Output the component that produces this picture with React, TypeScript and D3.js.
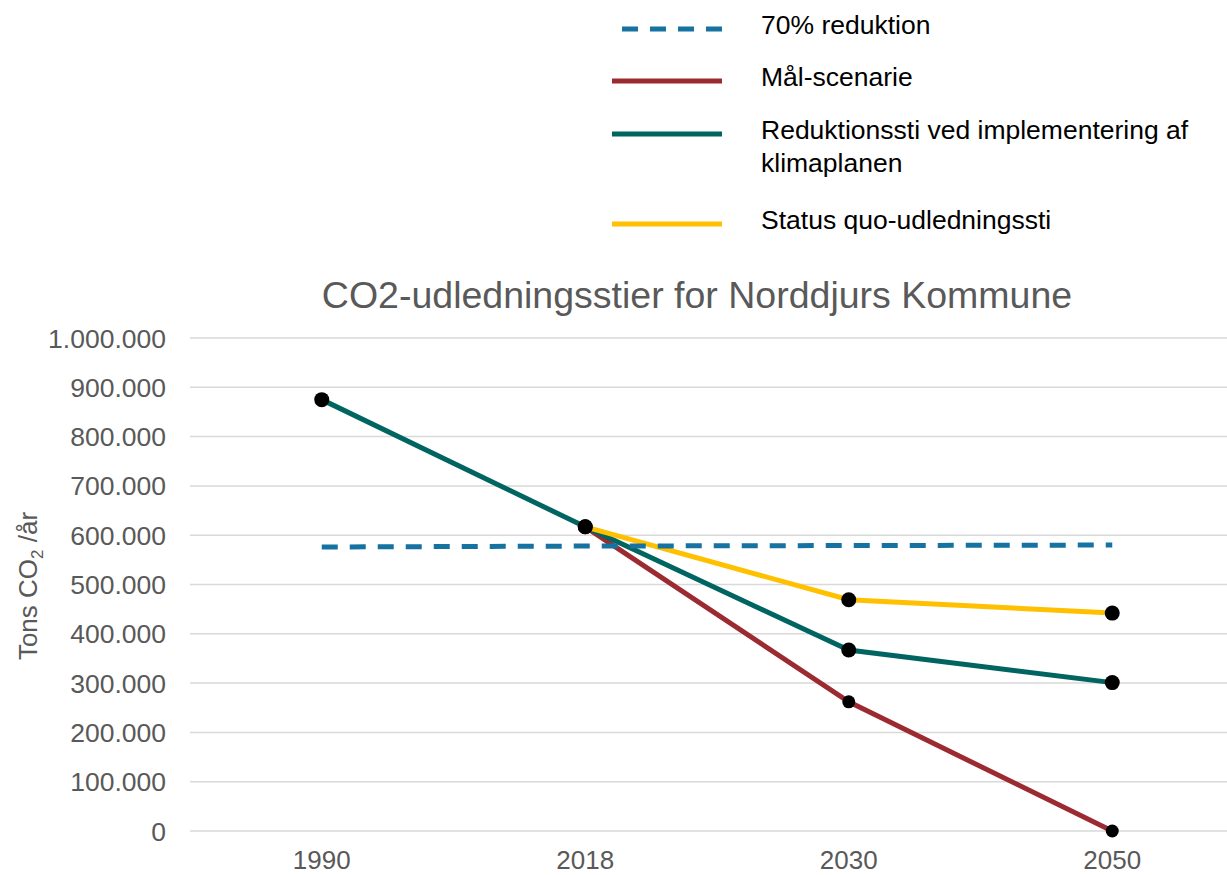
import React, { useEffect, useRef } from 'react';
import * as d3 from 'd3';

const years = ['1990', '2018', '2030', '2050'];
const yTicks = [0, 100000, 200000, 300000, 400000, 500000, 600000, 700000, 800000, 900000, 1000000];

const reduktion70 = [576000, 578000, 579000, 580000];
const maalScenarie = [null, 617000, 262000, 0];
const reduktionssti = [875000, 617000, 367000, 301000];
const statusQuo = [null, 617000, 469000, 442000];

type Series = {
  name: string[];
  values: (number | null)[];
  color: string;
  dashed: boolean;
  markerR: number[];
};

const series: Series[] = [
  { name: ['70% reduktion'], values: reduktion70, color: '#1572A1', dashed: true, markerR: [] },
  { name: ['Mål-scenarie'], values: maalScenarie, color: '#9B2B31', dashed: false, markerR: [0, 7, 6.5, 6.5] },
  { name: ['Reduktionssti ved implementering af', 'klimaplanen'], values: reduktionssti, color: '#006560', dashed: false, markerR: [7.5, 7.5, 7.5, 7.5] },
  { name: ['Status quo-udledningssti'], values: statusQuo, color: '#FFC000', dashed: false, markerR: [0, 7.5, 7.5, 7.5] },
];

// draw order: solid lines under, dashed on top
const drawOrder = [1, 2, 3, 0];

const W = 1227;
const H = 875;
const FONT = 'Liberation Sans, Arial, sans-serif';

const App: React.FC = () => {
  const svgRef = useRef<SVGSVGElement | null>(null);

  useEffect(() => {
    const svg = d3.select(svgRef.current);
    svg.selectAll('*').remove();

    const left = 190;
    const right = 1244;
    const top = 338;
    const bottom = 831;

    const x = d3.scaleBand<string>().domain(years).range([left, right]);
    const cx = (yr: string) => (x(yr) || 0) + x.bandwidth() / 2;
    const y = d3.scaleLinear().domain([0, 1000000]).range([bottom, top]);
    const fmt = (v: number) => d3.format(',')(v).replace(/,/g, '.');

    // gridlines
    svg.append('g')
      .selectAll('line')
      .data(yTicks)
      .enter()
      .append('line')
      .attr('x1', left)
      .attr('x2', right)
      .attr('y1', (d) => y(d))
      .attr('y2', (d) => y(d))
      .attr('stroke', '#d9d9d9')
      .attr('stroke-width', 1.5);

    // y tick labels
    svg.append('g')
      .selectAll('text')
      .data(yTicks)
      .enter()
      .append('text')
      .attr('x', 166)
      .attr('y', (d) => y(d))
      .attr('dy', '0.36em')
      .attr('text-anchor', 'end')
      .attr('font-family', FONT)
      .attr('font-size', 26.5)
      .attr('fill', '#595959')
      .text((d) => fmt(d));

    // x tick labels
    svg.append('g')
      .selectAll('text')
      .data(years)
      .enter()
      .append('text')
      .attr('x', (d) => cx(d))
      .attr('y', 869)
      .attr('text-anchor', 'middle')
      .attr('font-family', FONT)
      .attr('font-size', 26)
      .attr('fill', '#595959')
      .text((d) => d);

    // y axis title
    const yt = svg.append('text')
      .attr('transform', `translate(37,586) rotate(-90)`)
      .attr('text-anchor', 'middle')
      .attr('font-family', FONT)
      .attr('font-size', 26)
      .attr('fill', '#595959');
    yt.append('tspan').text('Tons CO');
    yt.append('tspan').attr('font-size', 17).attr('dy', 6).text('2');
    yt.append('tspan').attr('dy', -6).text(' /år');

    // title
    svg.append('text')
      .attr('x', 697)
      .attr('y', 308)
      .attr('text-anchor', 'middle')
      .attr('font-family', FONT)
      .attr('font-size', 37.5)
      .attr('fill', '#595959')
      .text('CO2-udledningsstier for Norddjurs Kommune');

    const line = d3.line<number | null>()
      .defined((d) => d !== null)
      .x((_, i) => cx(years[i]))
      .y((d) => y(d as number));

    drawOrder.forEach((si) => {
      const s = series[si];
      svg.append('path')
        .attr('d', line(s.values) || '')
        .attr('fill', 'none')
        .attr('stroke', s.color)
        .attr('stroke-width', 5)
        .attr('stroke-dasharray', s.dashed ? '16,12' : null);
    });

    series.forEach((s) => {
      svg.append('g')
        .selectAll('circle')
        .data(s.values.map((v, i) => ({ v, i, r: s.markerR[i] || 0 })).filter((d) => d.v !== null && d.r > 0))
        .enter()
        .append('circle')
        .attr('cx', (d) => cx(years[d.i]))
        .attr('cy', (d) => y(d.v as number))
        .attr('r', (d) => d.r)
        .attr('fill', '#000');
    });

    // legend
    const legendY = [29, 81, 134, 224];
    const lg = svg.append('g');
    series.forEach((s, i) => {
      lg.append('line')
        .attr('x1', s.dashed ? 622 : 612)
        .attr('x2', 722)
        .attr('y1', legendY[i])
        .attr('y2', legendY[i])
        .attr('stroke', s.color)
        .attr('stroke-width', 5)
        .attr('stroke-dasharray', s.dashed ? '16,12' : null);
      s.name.forEach((t, j) => {
        lg.append('text')
          .attr('x', 761)
          .attr('y', legendY[i] - 5 + j * 33)
          .attr('dy', '0.36em')
          .attr('font-family', FONT)
          .attr('font-size', 26.5)
          .attr('fill', '#000')
          .text(t);
      });
    });
  }, []);

  return (
    <svg
      ref={svgRef}
      width={W}
      height={H}
      style={{ position: 'absolute', left: 0, top: 0, background: '#fff' }}
    />
  );
};

export default App;
